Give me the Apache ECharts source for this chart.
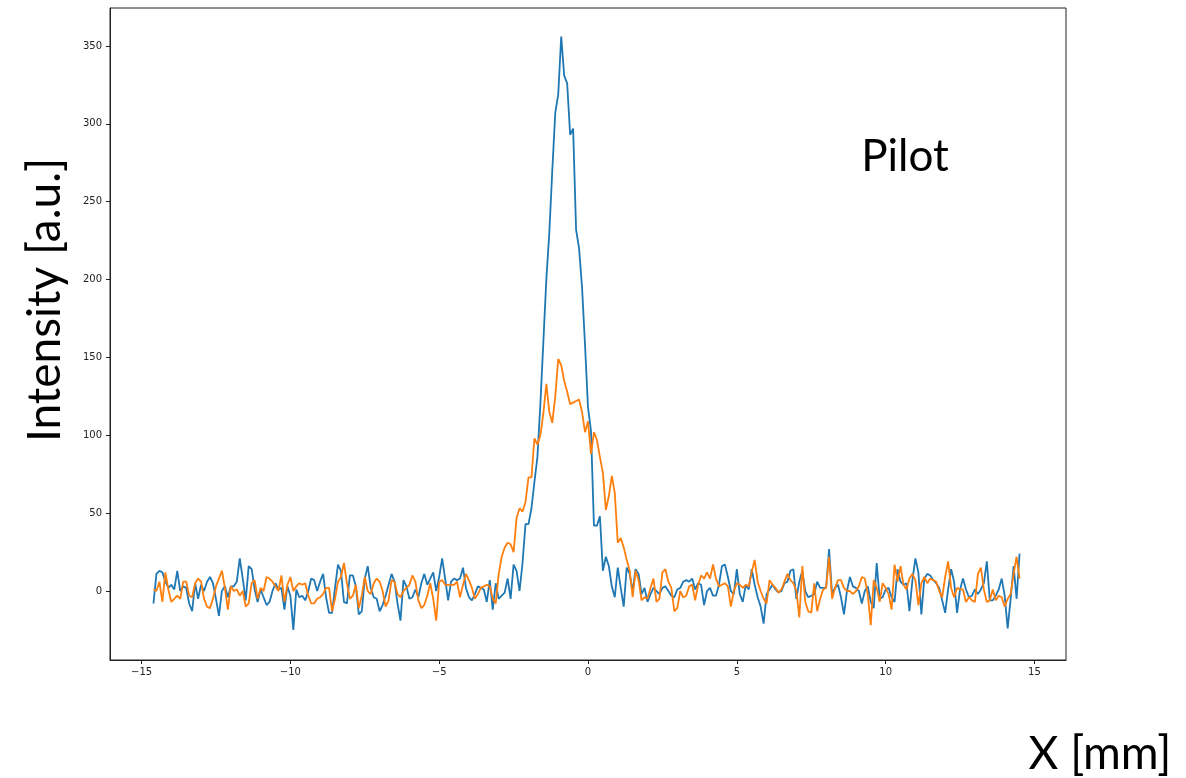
<!DOCTYPE html>
<html>
<head>
<meta charset="utf-8">
<title>Pilot</title>
<script src="https://cdn.jsdelivr.net/npm/echarts@6/dist/echarts.min.js"></script>
<style>
    html, body { margin: 0; padding: 0; background: #fff; }
    #main { width: 1186px; height: 778px; }
</style>
</head>
<body>
<div id="main"></div>
<script>
// sample grid along X [mm]
var xStart = -14.6;
var xStep = 0.1;

var blueValues = [
    -8, 11, 13, 12, 6, 2, 4, 1, 13, 0,
    3, 2, -8, -13, 5, -5, 4, 0, 6, 9,
    5, -5, -16, 0, 3, -4, 3, 3, 6, 21,
    8, -6, 16, 14, 1, -7, 1, -4, -9, -7,
    0, 5, 1, 2, -12, 3, -3, -25, 1, -4,
    -3, -6, 0, 8, 7, 0, 6, 11, -4, -14,
    -14, 2, 17, 13, -7, -8, 10, 10, 3, -15,
    -13, 8, 16, 2, -4, -5, -13, -9, -3, 4,
    11, 6, -8, -19, 7, 3, -5, -4, 1, -4,
    5, 11, 4, 8, 12, 0, 9, 21, 8, -6,
    6, 8, 7, 8, 15, 2, -4, -6, -2, 3,
    2, 1, -7, 7, -12, 5, -5, -3, -1, 8,
    -5, 17, 13, 0, 18, 43, 43, 53, 70, 86,
    120, 160, 200, 230, 270, 307, 319, 356, 331, 326,
    293, 297, 232, 220, 195, 158, 118, 103, 42, 42,
    48, 13, 22, 16, 3, -4, 15, 2, -10, 15,
    11, 0, 14, 11, -2, 2, -7, -2, 2, 0,
    -2, 2, 3, 0, -3, -4, 1, 2, 6, 7,
    6, 8, 1, 5, 4, -9, 0, 2, -3, -3,
    4, 16, 17, 9, 0, -2, 14, -2, -7, 4,
    1, 14, 4, -4, -10, -21, -2, 1, 4, 1,
    -1, 0, 5, 6, 13, 14, -5, 6, 13, 0,
    -4, -3, -2, 6, 2, 2, 2, 27, -2, 2,
    4, -4, -15, 0, 9, 3, 2, 0, -8, 0,
    3, -7, -11, 18, -5, -4, 1, 2, -4, -7,
    14, 6, 4, 5, -13, 7, 21, 12, -15, 8,
    11, 10, 7, 5, 2, -6, -14, 1, 14, 6,
    -14, 1, 8, 1, -4, -3, 1, -2, 1, 5,
    19, -6, -6, -3, 1, 8, -3, -24, -5, 16,
    -5, 24
];

var orangeValues = [
    1, 0, 6, -7, 12, 1, -7, -5, -3, -5,
    6, 6, -3, -4, 5, 8, 6, -5, -10, -11,
    -5, 3, 8, 13, 2, -12, 3, 0, 1, -3,
    0, -10, -8, 5, 7, -5, 2, 0, 9, 8,
    6, 3, 0, 10, -7, 4, 9, 0, 3, 5,
    4, 5, -3, -8, -8, -5, -4, -2, 2, 2,
    -13, -5, 6, 9, 18, 5, -5, -3, 4, -11,
    -3, 9, 0, -2, 5, 8, 6, 0, -10, -6,
    7, 6, -2, -4, 0, 2, 4, 10, 6, -6,
    -11, -9, -3, 5, -5, -19, 6, 7, 4, 4,
    4, 4, 6, -4, 4, 11, 7, 2, -5, -2,
    2, 3, 4, 3, -5, -8, 11, 22, 28, 31,
    30, 25, 47, 53, 51, 57, 73, 73, 98, 94,
    100, 114, 133, 115, 108, 125, 149, 145, 135, 128,
    120, 121, 122, 123, 115, 102, 109, 88, 102, 97,
    86, 76, 52, 61, 74, 63, 31, 34, 28, 20,
    13, -4, 13, 7, -6, -4, -5, 2, 8, -7,
    -5, 12, 14, 6, 2, -13, -11, 0, -4, -3,
    3, 4, -6, 4, 10, 8, 12, 8, 17, 8,
    3, 4, 5, 3, -10, 0, 5, 4, 2, 4,
    3, 12, 20, 6, 0, -5, -8, 7, 4, 2,
    -1, 1, 6, 11, 7, 5, 0, -17, 16, -7,
    -13, -14, 5, -13, -5, 1, 2, 22, -5, 2,
    7, 7, 2, 0, 0, -2, 0, 3, 9, 8,
    -2, -22, 7, 2, -7, 5, 2, -2, -12, 17,
    6, 16, 4, 1, 8, 11, 7, -9, 5, 9,
    5, 8, 7, 6, 0, -4, 9, 19, 2, -4,
    2, 1, 1, -7, -4, -6, -7, 11, 15, 1,
    -7, -6, 1, -6, -3, -4, -10, -5, -2, 11,
    22, 8
];

var xTicks = [-15, -10, -5, 0, 5, 10, 15];
var yTicks = [0, 50, 100, 150, 200, 250, 300, 350];

function pairs(values) {
    var out = [];
    for (var i = 0; i < values.length; i++) {
        out.push([+(xStart + i * xStep).toFixed(1), values[i]]);
    }
    return out;
}

function minus(v) {
    return String(v).replace('-', '\u2212');
}

var tickFont = { fontFamily: 'DejaVu Sans', fontSize: 10, color: '#222' };
var bigFont = 'Lato';

var option = {
    animation: false,
    backgroundColor: '#fff',
    grid: {
        left: 110,
        top: 8,
        right: 120,
        bottom: 118,
        show: true,
        borderColor: '#222',
        borderWidth: 1,
        containLabel: false
    },
    xAxis: {
        type: 'value',
        min: -16.06,
        max: 16.06,
        axisLine: { show: true, onZero: false, lineStyle: { color: '#222', width: 1 } },
        axisTick: { show: true, inside: false, length: 4, lineStyle: { color: '#222' }, customValues: xTicks },
        axisLabel: Object.assign({ margin: 7, customValues: xTicks, formatter: minus }, tickFont),
        splitLine: { show: false }
    },
    yAxis: {
        type: 'value',
        min: -44.3,
        max: 374.4,
        axisLine: { show: true, onZero: false, lineStyle: { color: '#222', width: 1 } },
        axisTick: { show: true, inside: false, length: 4, lineStyle: { color: '#222' }, customValues: yTicks },
        axisLabel: Object.assign({ margin: 8, customValues: yTicks, formatter: minus }, tickFont),
        splitLine: { show: false }
    },
    series: [
        {
            type: 'line',
            data: pairs(blueValues),
            showSymbol: false,
            lineStyle: { color: '#1f77b4', width: 1.8 },
            itemStyle: { color: '#1f77b4' }
        },
        {
            type: 'line',
            data: pairs(orangeValues),
            showSymbol: false,
            lineStyle: { color: '#ff7f0e', width: 1.8 },
            itemStyle: { color: '#ff7f0e' }
        }
    ],
    graphic: [
        {
            type: 'text',
            x: 45,
            y: 300,
            rotation: Math.PI / 2,
            style: {
                text: 'Intensity [a.u.]',
                font: '46px ' + bigFont,
                fill: '#000',
                align: 'center',
                verticalAlign: 'middle'
            }
        },
        {
            type: 'text',
            x: 905,
            y: 157,
            style: {
                text: 'Pilot',
                font: '44px ' + bigFont,
                fill: '#000',
                align: 'center',
                verticalAlign: 'middle'
            }
        },
        {
            type: 'text',
            x: 1100,
            y: 754,
            style: {
                text: 'X [mm]',
                font: '46px ' + bigFont,
                fill: '#000',
                align: 'center',
                verticalAlign: 'middle'
            }
        }
    ]
};

echarts.init(document.getElementById('main')).setOption(option);
</script>
</body>
</html>
